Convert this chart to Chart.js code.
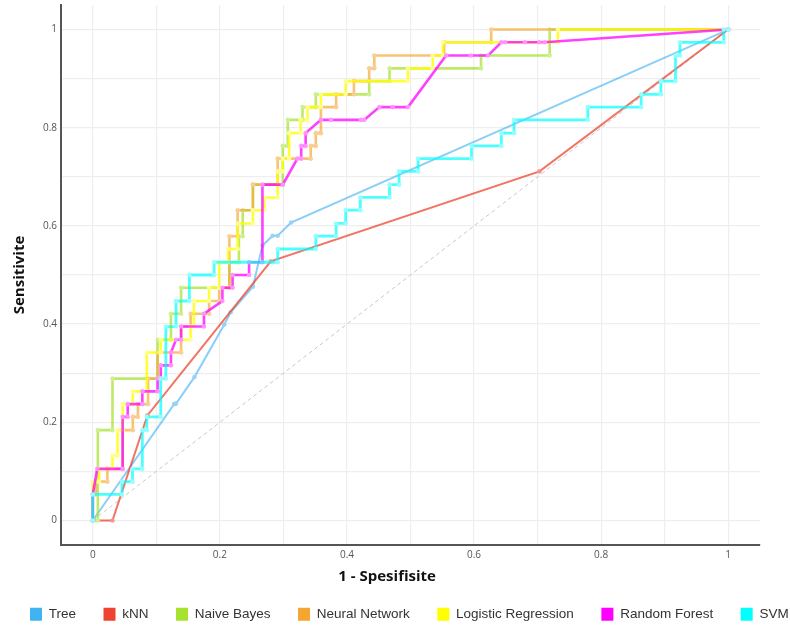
<!DOCTYPE html>
<html><head><meta charset="utf-8">
<script src="https://cdn.jsdelivr.net/npm/chart.js@4"></script>
<style>
html,body{margin:0;padding:0;overflow:hidden;background:#fff;width:790px;height:627px}
#wrap{position:relative;width:830px;height:627px}
</style>
</head><body><div id="wrap"><canvas id="c" width="830" height="627"></canvas></div>
<script>
const categories = ['Tree','kNN','Naive Bayes','Neural Network','Logistic Regression','Random Forest','SVM'];
const gridVals = [0,0.1,0.2,0.3,0.4,0.5,0.6,0.7,0.8,0.9,1];
const tickLabels = ['0','','0.2','','0.4','','0.6','','0.8','','1'];

const treeFpr = [0,0.128,0.131,0.160,0.207,0.217,0.252,0.267,0.283,0.291,0.312,1];
const treeTpr = [0,0.237,0.238,0.292,0.399,0.424,0.476,0.560,0.580,0.580,0.607,1];

const knnFpr = [0,0.031,0.086,0.280,0.703,1];
const knnTpr = [0,0,0.214,0.528,0.711,1];

const nbFpr = [0,0.008,0.008,0.031,0.031,0.102,0.102,0.123,0.123,0.139,0.139,0.215,0.215,0.23,0.23,0.236,0.236,0.252,0.252,0.299,0.299,0.307,0.307,0.33,0.33,0.351,0.351,0.435,0.435,0.467,0.467,0.611,0.611,0.719,0.719,1];
const nbTpr = [0,0,0.184,0.184,0.289,0.289,0.368,0.368,0.421,0.421,0.474,0.474,0.526,0.526,0.579,0.579,0.632,0.632,0.684,0.684,0.763,0.763,0.816,0.816,0.842,0.842,0.868,0.868,0.895,0.895,0.921,0.921,0.947,0.947,1,1];

const nnFpr = [0,0,0.005,0.005,0.023,0.023,0.047,0.047,0.063,0.063,0.071,0.071,0.087,0.087,0.102,0.102,0.139,0.139,0.154,0.154,0.183,0.183,0.199,0.199,0.215,0.215,0.228,0.228,0.252,0.252,0.291,0.291,0.343,0.343,0.351,0.351,0.359,0.359,0.383,0.383,0.411,0.411,0.435,0.435,0.443,0.443,0.553,0.553,0.627,0.627,1];
const nnTpr = [0,0.053,0.053,0.079,0.079,0.105,0.105,0.184,0.184,0.211,0.211,0.237,0.237,0.289,0.289,0.342,0.342,0.395,0.395,0.421,0.421,0.447,0.447,0.474,0.474,0.579,0.579,0.632,0.632,0.684,0.684,0.737,0.737,0.763,0.763,0.789,0.789,0.842,0.842,0.868,0.868,0.895,0.895,0.921,0.921,0.947,0.947,0.974,0.974,1,1];

const lrFpr = [0,0,0.01,0.01,0.031,0.031,0.039,0.039,0.047,0.047,0.063,0.063,0.085,0.085,0.107,0.107,0.154,0.154,0.159,0.159,0.183,0.183,0.199,0.199,0.213,0.213,0.228,0.228,0.252,0.252,0.27,0.27,0.291,0.291,0.299,0.299,0.309,0.309,0.327,0.327,0.338,0.338,0.359,0.359,0.398,0.398,0.496,0.496,0.535,0.535,0.551,0.551,0.732,0.732,1];
const lrTpr = [0,0.079,0.079,0.105,0.105,0.132,0.132,0.184,0.184,0.237,0.237,0.263,0.263,0.342,0.342,0.368,0.368,0.395,0.395,0.447,0.447,0.474,0.474,0.526,0.526,0.553,0.553,0.605,0.605,0.632,0.632,0.658,0.658,0.711,0.711,0.737,0.737,0.789,0.789,0.816,0.816,0.842,0.842,0.868,0.868,0.895,0.895,0.921,0.921,0.947,0.947,0.974,0.974,1,1];

const rfFpr = [0,0,0.007,0.047,0.047,0.055,0.055,0.078,0.078,0.102,0.102,0.107,0.107,0.123,0.123,0.131,0.139,0.139,0.175,0.175,0.204,0.204,0.22,0.22,0.246,0.246,0.267,0.267,0.299,0.322,0.328,0.328,0.335,0.335,0.359,0.375,0.422,0.427,0.451,0.472,0.496,0.556,0.595,0.622,0.643,0.649,0.68,0.703,0.711,1];
const rfTpr = [0,0.053,0.105,0.105,0.211,0.211,0.237,0.237,0.263,0.263,0.289,0.289,0.316,0.316,0.342,0.368,0.368,0.395,0.395,0.421,0.447,0.474,0.474,0.5,0.5,0.526,0.526,0.684,0.684,0.737,0.737,0.763,0.763,0.789,0.816,0.816,0.816,0.816,0.842,0.842,0.842,0.947,0.947,0.947,0.974,0.974,0.974,0.974,0.974,1];

const svmFpr = [0,0,0.046,0.046,0.0625,0.0625,0.078,0.078,0.085,0.085,0.107,0.107,0.115,0.115,0.131,0.131,0.152,0.152,0.191,0.191,0.291,0.291,0.351,0.351,0.383,0.383,0.398,0.398,0.421,0.421,0.467,0.467,0.482,0.482,0.512,0.512,0.596,0.596,0.643,0.643,0.663,0.663,0.779,0.779,0.863,0.863,0.894,0.894,0.917,0.917,0.924,0.924,0.993,0.993,1];
const svmTpr = [0,0.053,0.053,0.079,0.079,0.105,0.105,0.184,0.184,0.211,0.211,0.289,0.289,0.395,0.395,0.447,0.447,0.5,0.5,0.526,0.526,0.553,0.553,0.579,0.579,0.605,0.605,0.632,0.632,0.658,0.658,0.684,0.684,0.711,0.711,0.737,0.737,0.763,0.763,0.789,0.789,0.816,0.816,0.842,0.842,0.868,0.868,0.895,0.895,0.947,0.947,0.974,0.974,1,1];

const diagFpr = [0,1];
const diagTpr = [0,1];

const toPts = (xs, ys) => xs.map((x, i) => ({x: x, y: ys[i]}));

const series = [
  {fpr: treeFpr, tpr: treeTpr, color: '#41b2f2', line: 'rgba(65,178,242,0.62)', point: 'rgba(150,210,250,0.9)', width: 2},
  {fpr: knnFpr, tpr: knnTpr, color: '#ee4330', line: 'rgba(238,67,48,0.75)', point: 'rgba(245,150,140,0.9)', width: 2},
  {fpr: nbFpr, tpr: nbTpr, color: '#a6e22e', line: 'rgba(166,226,46,0.72)', point: 'rgba(205,240,150,0.95)', width: 2.6},
  {fpr: nnFpr, tpr: nnTpr, color: '#f5a631', line: 'rgba(245,166,49,0.68)', point: 'rgba(250,205,150,0.95)', width: 2.6},
  {fpr: lrFpr, tpr: lrTpr, color: '#ffff00', line: 'rgba(255,255,0,0.78)', point: 'rgba(255,255,150,0.95)', width: 2.6},
  {fpr: rfFpr, tpr: rfTpr, color: '#ff00ff', line: 'rgba(255,0,255,0.75)', point: 'rgba(255,150,255,0.95)', width: 2.6},
  {fpr: svmFpr, tpr: svmTpr, color: '#00ffff', line: 'rgba(0,255,255,0.7)', point: 'rgba(150,255,255,0.95)', width: 2.8}
];

const datasets = series.map((s, i) => ({
  label: categories[i],
  data: toPts(s.fpr, s.tpr),
  showLine: true,
  tension: 0,
  borderColor: s.line,
  backgroundColor: s.color,
  borderWidth: s.width,
  pointRadius: 2.3,
  pointBackgroundColor: s.point,
  pointBorderWidth: 0,
  pointHoverRadius: 0,
  order: 10 - i
}));
datasets.push({
  label: 'diag',
  data: toPts(diagFpr, diagTpr),
  showLine: true,
  borderColor: '#c8c8c8',
  borderDash: [4, 3],
  borderWidth: 1,
  pointRadius: 0,
  order: 20
});

const tickFont = {family: 'Open Sans', size: 10};
const titleFont = {family: 'Open Sans', size: 15, weight: 'bold'};

new Chart(document.getElementById('c'), {
  type: 'scatter',
  data: {datasets: datasets},
  options: {
    responsive: false,
    animation: false,
    devicePixelRatio: 1,
    layout: {padding: {top: 5, left: 2.5, right: 0, bottom: 0}},
    plugins: {
      tooltip: {enabled: false},
      legend: {
        position: 'bottom',
        align: 'start',
        maxHeight: 47,
        labels: {
          boxWidth: 12,
          boxHeight: 13,
          padding: 27.5,
          color: '#333',
          font: {family: 'Liberation Sans', size: 13.5},
          generateLabels: () => series.map((s, i) => ({
            text: categories[i], fillStyle: s.color, strokeStyle: s.color, lineWidth: 0,
            hidden: false, datasetIndex: i, fontColor: '#333'
          }))
        }
      }
    },
    scales: {
      x: {
        type: 'linear', min: -0.05, max: 1.05,
        afterBuildTicks: s => { s.ticks = gridVals.map(v => ({value: v})); },
        afterFit: s => { s.height = 35; s.paddingLeft = 0; s.paddingRight = 0; },
        grid: {color: '#eeeeee', lineWidth: 1.2, drawTicks: false},
        border: {display: true, color: '#555', width: 2},
        ticks: {padding: 4, color: '#555', font: tickFont, maxRotation: 0, autoSkip: false,
          callback: (v, i) => tickLabels[i]},
        title: {display: true, text: '1 - Spesifisite            ', color: '#111', font: titleFont, padding: {top: 0, bottom: -6}}
      },
      y: {
        type: 'linear', min: -0.05, max: 1.05,
        afterBuildTicks: s => { s.ticks = gridVals.map(v => ({value: v})); },
        afterFit: s => { s.width = 58.5; s.paddingTop = 0; s.paddingBottom = 0; },
        grid: {color: '#eeeeee', lineWidth: 1.2, drawTicks: false},
        border: {display: true, color: '#555', width: 2},
        ticks: {padding: 4, color: '#555', font: tickFont, autoSkip: false,
          callback: (v, i) => tickLabels[i]},
        title: {display: true, text: 'Sensitivite', color: '#111', font: titleFont, padding: {top: 8, bottom: 0}}
      },
      yR: {
        type: 'linear', position: 'right', display: true,
        grid: {display: false}, border: {display: false}, ticks: {display: false},
        afterFit: s => { s.width = 70; s.paddingTop = 0; s.paddingBottom = 0; }
      }
    }
  }
});
</script>
</body></html>
